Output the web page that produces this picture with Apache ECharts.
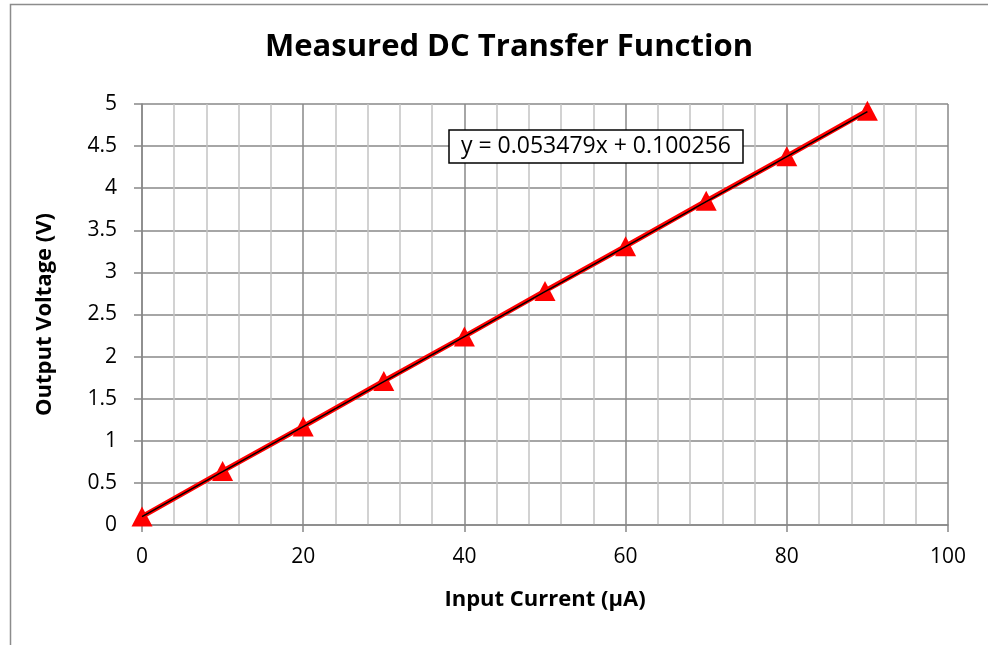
<!DOCTYPE html>
<html>
<head>
<meta charset="UTF-8">
<title>Measured DC Transfer Function</title>
<script src="https://cdn.jsdelivr.net/npm/echarts@6/dist/echarts.min.js"></script>
<style>
    html, body { margin: 0; padding: 0; background: #fff; }
    #main { width: 988px; height: 645px; }
</style>
</head>
<body>
<div id="main"></div>
<script type="text/javascript">
    // measured points
    var inputCurrent = [0, 10, 20, 30, 40, 50, 60, 70, 80, 90];
    var outputVoltage = [0.10, 0.64, 1.17, 1.71, 2.24, 2.78, 3.31, 3.85, 4.38, 4.92];
    // linear trendline endpoints and its label
    var trendX = [0, 90];
    var trendY = [0.10, 4.91];
    var trendLabel = 'y = 0.053479x + 0.100256';

    var font = 'Open Sans';
    var points = inputCurrent.map(function (x, i) { return [x, outputVoltage[i]]; });
    var trend = trendX.map(function (x, i) { return [x, trendY[i]]; });

    var myChart = echarts.init(document.getElementById('main'));

    var option = {
        animation: false,
        backgroundColor: '#fff',
        title: [{
            text: 'Measured DC Transfer Function',
            left: 260,
            top: 27,
            textStyle: { fontFamily: font, fontSize: 31, fontWeight: 'bold', color: '#000' }
        }, {
            text: trendLabel,
            left: 449,
            top: 130,
            padding: [5, 12, 5, 12],
            borderColor: '#000',
            borderWidth: 1.5,
            backgroundColor: '#fff',
            textStyle: { fontFamily: font, fontSize: 23, fontWeight: 'normal', color: '#000' }
        }],
        graphic: [{
            type: 'rect',
            shape: { x: 10.5, y: 4.5, width: 1000, height: 700 },
            style: { fill: 'none', stroke: '#8c8c8c', lineWidth: 1.5 },
            silent: true
        }],
        grid: { left: 142, right: 40, top: 104, bottom: 120 },
        xAxis: {
            type: 'value',
            min: 0, max: 100, interval: 20,
            name: 'Input Current (\u00b5A)',
            nameLocation: 'middle',
            nameGap: 64,
            nameTextStyle: { fontFamily: font, fontSize: 22, fontWeight: 'bold', color: '#000' },
            axisLine: { show: true, lineStyle: { color: '#888', width: 1.5 } },
            axisTick: { show: true, length: 7, lineStyle: { color: '#888', width: 1.5 } },
            axisLabel: { fontFamily: font, fontSize: 21, color: '#000', margin: 22 },
            splitLine: { show: true, lineStyle: { color: '#888', width: 1.5 } },
            minorTick: { show: false, splitNumber: 5 },
            minorSplitLine: { show: true, lineStyle: { color: '#c4c4c4', width: 1.5 } }
        },
        yAxis: {
            type: 'value',
            min: 0, max: 5, interval: 0.5,
            name: 'Output Voltage (V)',
            nameLocation: 'middle',
            nameGap: 86,
            nameTextStyle: { fontFamily: font, fontSize: 22, fontWeight: 'bold', color: '#000' },
            axisLine: { show: true, lineStyle: { color: '#888', width: 1.5 } },
            axisTick: { show: true, length: 8, lineStyle: { color: '#888', width: 1.5 } },
            axisLabel: { fontFamily: font, fontSize: 21, color: '#000', margin: 25 },
            splitLine: { show: true, lineStyle: { color: '#888', width: 1.5 } }
        },
        series: [{
            name: 'Measured',
            type: 'line',
            data: points,
            symbol: 'triangle',
            symbolSize: [21, 20],
            itemStyle: { color: '#ff0000' },
            lineStyle: { color: '#ff0000', width: 5 },
            z: 2
        }, {
            name: 'Linear fit',
            type: 'line',
            data: trend,
            symbol: 'none',
            lineStyle: { color: '#000', width: 1.5 },
            z: 3
        }]
    };

    myChart.setOption(option);
</script>
</body>
</html>
